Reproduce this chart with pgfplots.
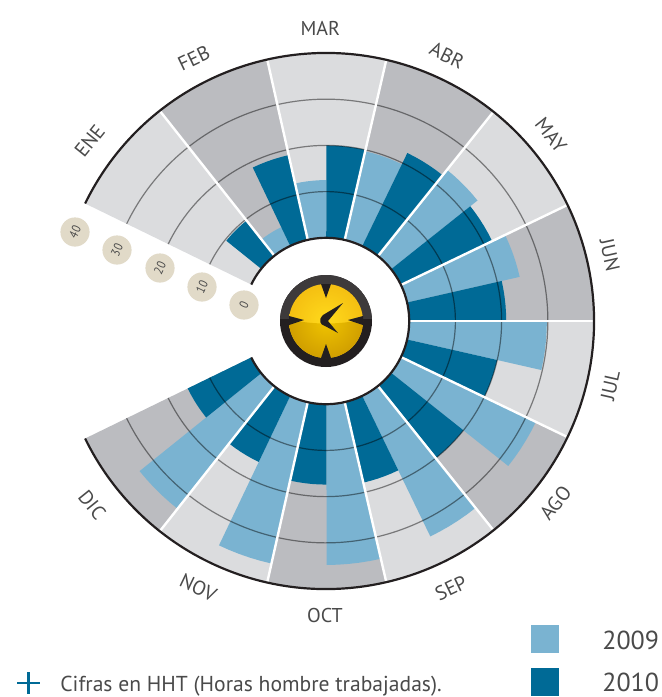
\documentclass[border=0pt]{standalone}
\usepackage{pgfplots}
\pgfplotsset{compat=1.18}
\usepgfplotslibrary{polar}
\usepackage{fontspec}
\setmainfont{PT Sans}
\definecolor{bgA}{HTML}{DBDCDE}
\definecolor{bgB}{HTML}{BBBCC0}
\definecolor{cA}{HTML}{7AB3D1}
\definecolor{cB}{HTML}{006A96}
\definecolor{ink}{HTML}{231F20}
\definecolor{txt}{HTML}{4A4A4A}
\definecolor{tanc}{HTML}{E1DAC8}
\definecolor{yA}{HTML}{FFDA1C}
\definecolor{yB}{HTML}{F2B90F}
\definecolor{yC}{HTML}{F0C400}
\definecolor{yD}{HTML}{C99600}
% start angle, angular width, value, colour (radius = value + 18, the hub)
\newcommand\wdg[4]{\addplot[fill=#4,draw=none,no markers,forget plot] coordinates {
 ({#1},18) ({#1},{18+#3}) ({#1-#2*0.2},{18+#3}) ({#1-#2*0.4},{18+#3}) ({#1-#2*0.6},{18+#3}) ({#1-#2*0.8},{18+#3}) ({#1-#2},{18+#3}) ({#1-#2},18)
 ({#1-#2*0.75},18) ({#1-#2*0.5},18) ({#1-#2*0.25},18) };}
\newcommand\msep[1]{\addplot[white,line width=1.2pt,no markers,forget plot] coordinates {(#1,18) (#1,58)};}
% month: start angle, 2009, 2010
\newcommand\mon[3]{\wdg{#1}{12.83}{#2}{cA}\wdg{#1-12.83}{12.84}{#3}{cB}}
\newcommand\mlabel[4]{\node[rotate=#3,text=txt,font=\fontsize{10}{10}\selectfont] at (axis cs:#1,#2) {#4};}
\newcommand\bub[3]{\fill[tanc] (#1,#2) circle[radius=7.3pt]; \node[rotate=64,xscale=0.85,text=txt,font=\fontsize{6.3}{7}\selectfont] at (#1,#2) {#3};}
\begin{document}
\begin{tikzpicture}[x=0.5pt,y=-0.5pt]
\path[use as bounding box] (0,0) rectangle (662,697);
\begin{polaraxis}[at={(163pt,-160.5pt)},anchor=origin,scale only axis,width=268pt,height=268pt,
  xmin=0,xmax=360,ymin=0,ymax=58,hide axis,clip=false]
% background sectors
\wdg{154}{25.67}{40}{bgA}
\wdg{128.33}{25.66}{40}{bgB}
\wdg{102.67}{25.67}{40}{bgA}
\wdg{77}{25.67}{40}{bgB}
\wdg{51.33}{25.66}{40}{bgA}
\wdg{25.67}{25.67}{40}{bgB}
\wdg{0}{25.67}{40}{bgA}
\wdg{-25.67}{25.66}{40}{bgB}
\wdg{-51.33}{25.67}{40}{bgA}
\wdg{-77}{25.67}{40}{bgB}
\wdg{-102.67}{25.66}{40}{bgA}
\wdg{-128.33}{25.67}{40}{bgB}
% data: 2009, 2010
\wdg{141.17}{12.84}{9.7}{cB}
\mon{128.33}{4.5}{18.8}
\mon{102.67}{12.5}{20}
\mon{77}{19.7}{22.4}
\mon{51.33}{23.9}{21.9}
\mon{25.67}{25}{21}
\mon{0}{29.8}{20}
\mon{-25.67}{32.4}{20}
\mon{-51.33}{33.8}{17.9}
\mon{-77}{34.8}{17.4}
\mon{-102.67}{35.8}{15.8}
\mon{-128.33}{33.8}{15.3}
% rings
\draw[black,opacity=0.45,line width=0.6pt] (axis cs:154,28) arc[start angle=154,end angle=-154,radius=64.69pt];
\draw[black,opacity=0.45,line width=0.6pt] (axis cs:154,38) arc[start angle=154,end angle=-154,radius=87.79pt];
\draw[black,opacity=0.45,line width=0.6pt] (axis cs:154,48) arc[start angle=154,end angle=-154,radius=110.9pt];
% separators
\msep{128.33}\msep{102.67}\msep{77}\msep{51.33}\msep{25.67}\msep{0}\msep{-25.67}\msep{-51.33}\msep{-77}\msep{-102.67}\msep{-128.33}
% outer and hub arcs
\draw[ink,line width=1.1pt] (axis cs:154,58) arc[start angle=154,end angle=-154,radius=134pt];
\draw[ink,line width=1.1pt] (axis cs:154,18) arc[start angle=154,end angle=-154,radius=41.59pt];
% month labels
\mlabel{142.7}{64.3}{51.17}{ENE}
\mlabel{116.7}{63.6}{25.5}{FEB}
\mlabel{91.1}{63.4}{0}{MAR}
\mlabel{65.5}{63.2}{-25.83}{ABR}
\mlabel{39.6}{63.2}{-51.5}{MAY}
\mlabel{13.1}{63.1}{-77.17}{JUN}
\mlabel{-12.8}{63.1}{77.17}{JUL}
\mlabel{-38.4}{63.4}{51.5}{AGO}
\mlabel{-64.9}{63.8}{25.83}{SEP}
\mlabel{-90.2}{63.8}{0}{OCT}
\mlabel{-115.6}{64}{-25.5}{NOV}
\mlabel{-141.8}{64.4}{-51.17}{DIC}
\end{polaraxis}
% scale bubbles
\bub{244}{305}{0}
\bub{202}{287}{10}
\bub{160}{268}{20}
\bub{117}{250}{30}
\bub{75}{232}{40}
% clock
\fill[ink] (326,321) circle[radius=23pt];
\begin{scope}
 \clip (326,321) circle[radius=23pt];
 \fill[ink!88!white] (280,275) rectangle (372,319);
\end{scope}
\begin{scope}
 \clip (326,321) circle[radius=18.5pt];
 \shade[inner color=yA,outer color=yB] (280,275) rectangle (372,367);
 \begin{scope}
  \clip (288,319) .. controls (310,325) and (342,325) .. (364,319) -- (364,359) -- (288,359) -- cycle;
  \shade[inner color=yC,outer color=yD] (280,275) rectangle (372,367);
 \end{scope}
\end{scope}
\fill[ink] (321,284) -- (326,298) -- (331,284) -- cycle;
\fill[ink] (321,358) -- (326,344) -- (331,358) -- cycle;
\fill[ink] (289,316) -- (304,320) -- (289,325) -- cycle;
\fill[ink] (363,316) -- (348,320) -- (363,325) -- cycle;
\fill[ink] (343,303) -- (323,315) .. controls (318,320) and (320,325) .. (325,326) -- (338,333) -- (328,321) -- cycle;
% legend
\fill[cA] (531,625) rectangle (559,653);
\fill[cB] (531,668) rectangle (559,696);
\node[anchor=west,inner sep=0pt,text=txt,font=\fontsize{13}{13}\selectfont] at (602,640) {2009};
\node[anchor=west,inner sep=0pt,text=txt,font=\fontsize{13}{13}\selectfont] at (602,682) {2010};
\draw[cB,line width=1.2pt] (17,683) -- (40,683) (28.5,672) -- (28.5,694);
\node[anchor=west,inner sep=0pt,text=txt,font=\fontsize{10.8}{11}\selectfont] at (60,686) {Cifras en HHT (Horas hombre trabajadas).};
\end{tikzpicture}
\end{document}
